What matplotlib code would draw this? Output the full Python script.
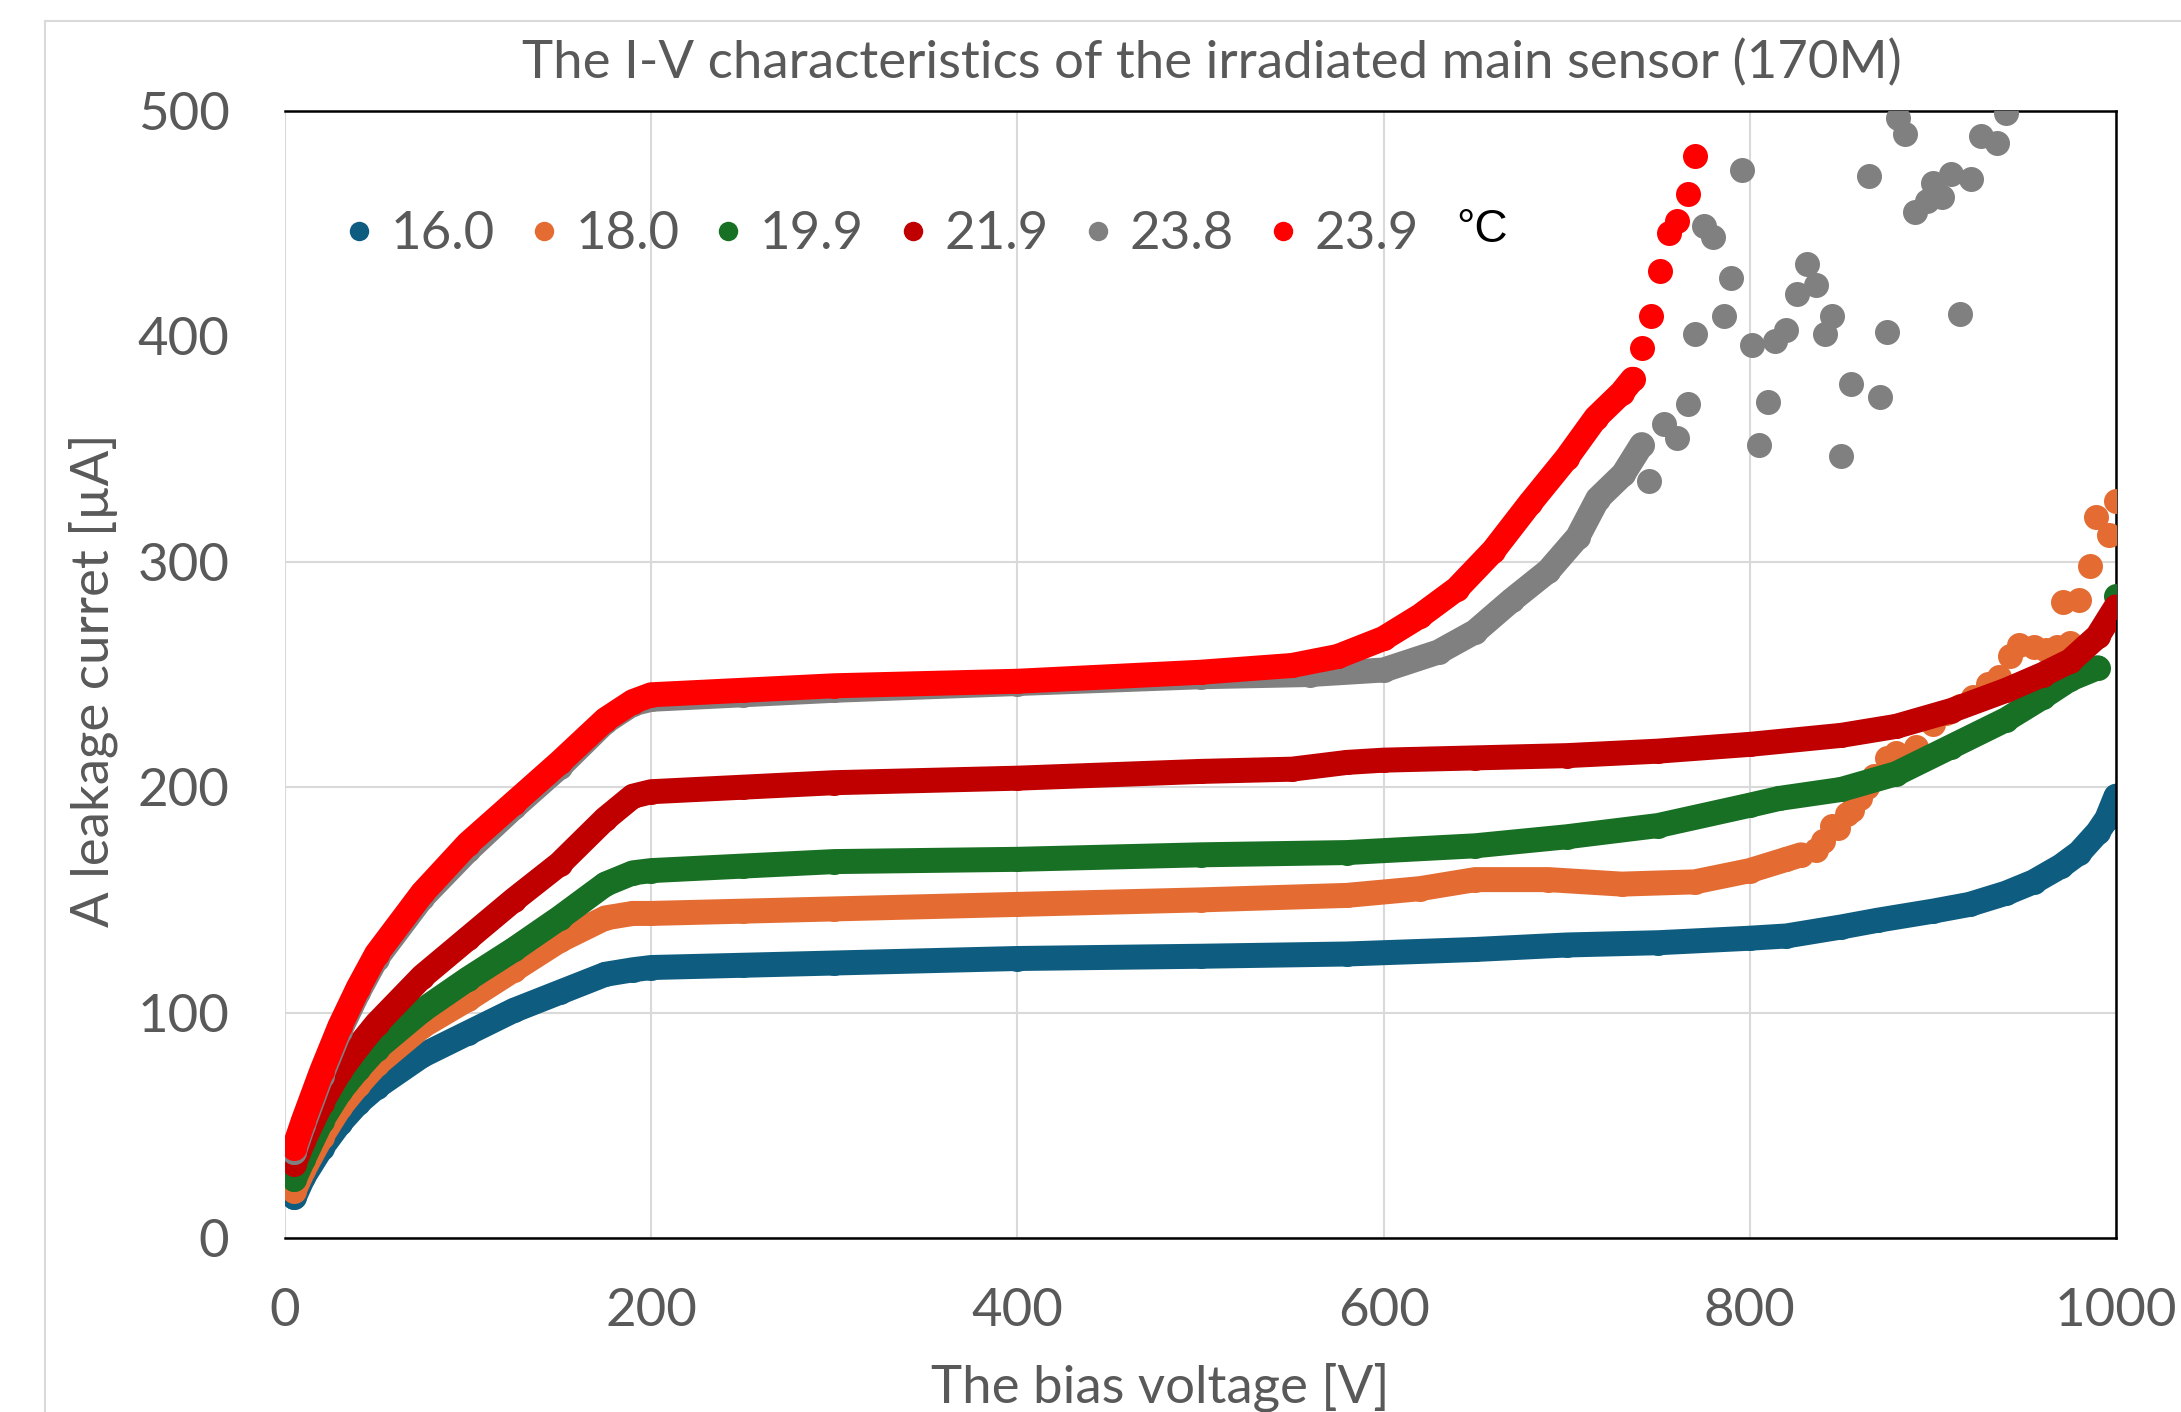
import matplotlib
matplotlib.use("Agg")
import matplotlib.pyplot as plt
from matplotlib.lines import Line2D
from matplotlib.patches import Rectangle

plt.rcParams['font.family'] = ['Lato', 'DejaVu Sans']

# temperatures (legend) and colours
temps = ['16.0', '18.0', '19.9', '21.9', '23.8', '23.9']
colors = ['#0E5D80', '#E46C32', '#187024', '#C00000', '#808080', '#FF0000']

# 16.0 C
v_160 = [5, 10, 20, 30, 40, 50, 75, 100, 125, 150, 175, 190, 200, 250, 300, 400, 500, 580,
         650, 700, 750, 800, 820, 850, 870, 900, 920, 940, 955, 970, 980, 990, 995, 1000]
i_160 = [18, 27, 40, 51, 60, 67, 81, 91, 101, 109, 117, 119, 120, 121, 122, 124, 125, 126,
         128, 130, 131, 133, 134, 138, 141, 145, 148, 153, 158, 165, 171, 180, 186, 196]
v_160_pts = []
i_160_pts = []

# 18.0 C
v_180 = [5, 10, 20, 30, 40, 50, 75, 100, 125, 150, 175, 190, 200, 250, 300, 400, 500, 580,
         620, 650, 690, 730, 770, 800, 820, 828]
i_180 = [21, 30, 45, 58, 68, 77, 94, 106, 119, 132, 142, 144, 144, 145, 146, 148, 150, 152,
         155, 159, 159, 157, 158, 163, 168, 170]
v_180_pts = [836, 840, 845, 848, 853, 856, 860, 864, 868, 875, 880, 891, 900, 907, 915, 922,
             930, 936, 942, 947, 955, 962, 968, 975, 971, 980, 986, 989, 996, 1000]
i_180_pts = [172, 176, 183, 182, 188, 190, 195, 200, 205, 213, 215, 218, 228, 233, 236, 240,
             246, 249, 258, 263, 262, 261, 262, 264, 282, 283, 298, 320, 312, 327]

# 19.9 C
v_199 = [5, 10, 20, 30, 40, 50, 75, 100, 125, 150, 175, 190, 200, 250, 300, 400, 500, 580,
         650, 700, 750, 800, 816, 850, 880, 910, 940, 960, 975, 990]
i_199 = [26, 35, 52, 65, 75, 84, 101, 115, 128, 142, 157, 162, 163, 165, 167, 168, 170, 171,
         174, 178, 183, 192, 195, 199, 206, 218, 230, 240, 248, 253]
v_199_pts = [1000]
i_199_pts = [285]

# 21.9 C
v_219 = [5, 10, 20, 30, 40, 50, 75, 100, 125, 150, 175, 190, 200, 250, 300, 400, 500, 550,
         580, 600, 650, 700, 750, 800, 850, 880, 910, 940, 960, 975, 990, 1000]
i_219 = [33, 43, 60, 74, 85, 95, 116, 133, 150, 166, 186, 196, 198, 200, 202, 204, 207, 208,
         211, 212, 213, 214, 216, 219, 223, 227, 234, 243, 250, 256, 267, 280]
v_219_pts = []
i_219_pts = []

# 23.8 C
v_238 = [5, 10, 20, 30, 40, 50, 75, 100, 125, 150, 175, 190, 200, 250, 300, 400, 500, 560,
         600, 630, 650, 670, 690, 706, 717, 731, 741]
i_238 = [38, 50, 72, 92, 109, 124, 151, 172, 191, 209, 229, 237, 239, 241, 243, 246, 249, 250,
         252, 260, 269, 283, 296, 311, 328, 339, 352]
v_238_pts = [745, 753, 760, 766, 770, 775, 780, 786, 790, 796, 801, 805, 810, 814, 820, 826,
             831, 836, 841, 845, 850, 855, 865, 871, 875, 881, 885, 890, 897, 900, 905, 910,
             915, 921, 926, 935, 940]
i_238_pts = [336, 361, 355, 370, 401, 449, 444, 409, 426, 474, 396, 352, 371, 398, 403, 419,
             432, 423, 401, 409, 347, 379, 471, 373, 402, 497, 490, 455, 460, 468, 462, 472,
             410, 470, 489, 486, 499]

# 23.9 C
v_239 = [5, 10, 20, 30, 40, 50, 75, 100, 125, 150, 175, 190, 200, 250, 300, 400, 500, 550,
         575, 600, 620, 640, 660, 680, 700, 716, 730, 736]
i_239 = [40, 52, 74, 94, 111, 126, 153, 175, 193, 211, 230, 238, 241, 243, 245, 247, 251, 254,
         258, 266, 276, 288, 305, 326, 346, 364, 375, 381]
v_239_pts = [741, 746, 751, 756, 760, 766, 770]
i_239_pts = [395, 409, 429, 446, 451, 463, 480]

dense = [(v_160, i_160), (v_180, i_180), (v_199, i_199), (v_219, i_219), (v_238, i_238), (v_239, i_239)]
sparse = [(v_160_pts, i_160_pts), (v_180_pts, i_180_pts), (v_199_pts, i_199_pts),
          (v_219_pts, i_219_pts), (v_238_pts, i_238_pts), (v_239_pts, i_239_pts)]

x_ticks = [0, 200, 400, 600, 800, 1000]
y_ticks = [0, 100, 200, 300, 400, 500]

W, H = 2181, 1412
fig = plt.figure(figsize=(W / 100, H / 100), dpi=100)
fig.patch.set_facecolor('white')
# chart area border (runs off the image right and bottom)
fig.add_artist(Rectangle((45 / W, -0.2), 1.5, 1.2 - 21 / H, transform=fig.transFigure,
                         fill=False, edgecolor='#D9D9D9', lw=1.5))

ax = fig.add_axes([285 / W, 1 - 1238 / H, (2116 - 285) / W, (1238 - 111) / H])

ms = 18
for k in range(6):
    v, i = dense[k]
    ax.plot(v, i, '-', color=colors[k], lw=ms, solid_capstyle='round', solid_joinstyle='round',
            zorder=2 + k)
    ax.plot(v, i, 'o', color=colors[k], ms=ms, mew=0, zorder=2 + k)
    vp, ip = sparse[k]
    if len(vp):
        ax.plot(vp, ip, 'o', color=colors[k], ms=ms, mew=0, zorder=2 + k)

fs = 38
ax.set_xlim(0, 1000)
ax.set_ylim(0, 500)
ax.set_xticks(x_ticks)
ax.set_yticks(y_ticks)
ax.tick_params(length=0, labelsize=fs, labelcolor='#595959')
ax.tick_params(axis='y', pad=40)
ax.tick_params(axis='x', pad=36)
ax.grid(True, color='#D9D9D9', lw=1.5, zorder=0)
ax.set_axisbelow(True)
ax.yaxis.get_gridlines()[4].set_visible(False)
ax.spines['left'].set_visible(False)
for s in ['top', 'bottom', 'right']:
    ax.spines[s].set_linewidth(1.8)
    ax.spines[s].set_color('black')

fig.text(1212 / W, 1 - 63 / H, 'The I-V characteristics of the irradiated main sensor (170M)',
         ha='center', va='center', fontsize=fs, color='#595959')
fig.text(1160 / W, 1 - 1387 / H, 'The bias voltage [V]', ha='center', va='center',
         fontsize=fs, color='#595959')
fig.text(93 / W, 1 - 680 / H, 'A leakage curret [µA]', ha='center', va='center',
         rotation=90, fontsize=fs, color='#595959')

handles = [Line2D([], [], ls='none', marker='o', ms=ms - 4, mew=0, color=c) for c in colors]
leg = ax.legend(handles, temps, ncol=6, loc='center left', bbox_to_anchor=(0.02, 0.89),
                frameon=False, fontsize=fs, handlelength=0.6, handletextpad=0.3,
                columnspacing=0.63, borderaxespad=0)
for t in leg.get_texts():
    t.set_color('#595959')
fig.text(1456 / W, 1 - 230 / H, '°C', ha='left', va='center', fontsize=33,
         family='Liberation Sans', color='black')

fig.savefig('out.png', dpi=100)
